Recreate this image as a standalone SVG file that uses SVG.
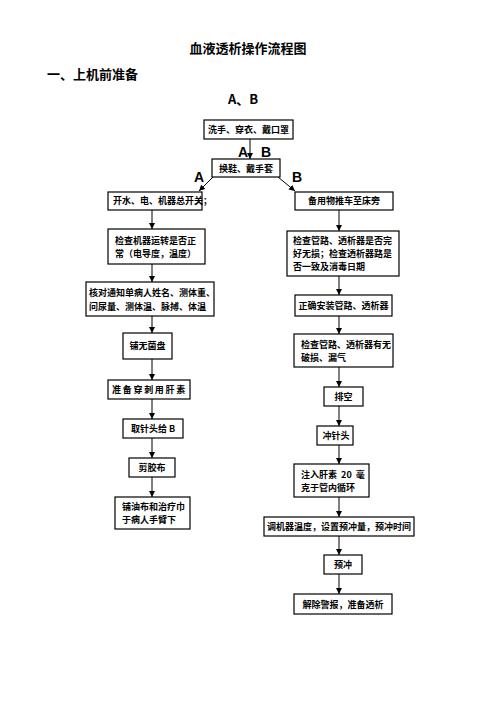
<svg xmlns="http://www.w3.org/2000/svg" width="496" height="702" viewBox="0 0 496 702">
<style>
.box{fill:#fff;stroke:#000;stroke-width:1.2}
.t{font-family:"Noto Sans CJK SC","Noto Sans CJK JP",sans-serif;font-weight:bold;font-size:9px;fill:#000}
.c{text-anchor:middle}
.h{font-family:"Noto Sans CJK SC",sans-serif;font-weight:bold;font-size:13px;fill:#000}
.lab{font-family:"Liberation Sans",Arial,sans-serif;font-weight:bold;font-size:14px;fill:#000}
.ln{stroke:#000;stroke-width:1;fill:none;marker-end:url(#ah)}
</style>
<defs>
<marker id="ah" markerWidth="6" markerHeight="6" refX="6" refY="3" orient="auto" markerUnits="userSpaceOnUse">
<path d="M0,0 L6,3 L0,6 Z" fill="#000"/>
</marker>
</defs>
<rect width="496" height="702" fill="#fff"/>
<text class="h" x="248" y="53" text-anchor="middle">血液透析操作流程图</text>
<text class="h" x="47" y="79">一、上机前准备</text>
<text class="h" x="243" y="104" text-anchor="middle" font-family="Liberation Sans, Noto Sans CJK SC, sans-serif">A、B</text>

<g id="connectors">
<line class="ln" x1="250" y1="139" x2="250" y2="159"/>
<line class="ln" x1="213" y1="177" x2="199" y2="191"/>
<line class="ln" x1="278" y1="177" x2="295" y2="191"/>
<line class="ln" x1="152" y1="210" x2="152" y2="229"/>
<line class="ln" x1="152" y1="264" x2="152" y2="282"/>
<line class="ln" x1="152" y1="316" x2="152" y2="333"/>
<line class="ln" x1="152" y1="359" x2="152" y2="380"/>
<line class="ln" x1="152" y1="399" x2="152" y2="419"/>
<line class="ln" x1="152" y1="438" x2="152" y2="458"/>
<line class="ln" x1="152" y1="477" x2="152" y2="497"/>
<line class="ln" x1="339" y1="210" x2="339" y2="231"/>
<line class="ln" x1="339" y1="276" x2="339" y2="295"/>
<line class="ln" x1="339" y1="316" x2="339" y2="334"/>
<line class="ln" x1="339" y1="367" x2="339" y2="387"/>
<line class="ln" x1="339" y1="406" x2="339" y2="426"/>
<line class="ln" x1="339" y1="445" x2="339" y2="464"/>
<line class="ln" x1="339" y1="497" x2="339" y2="517"/>
<line class="ln" x1="339" y1="536" x2="339" y2="555"/>
<line class="ln" x1="339" y1="574" x2="339" y2="594"/>
<text class="lab" x="238" y="157">A</text>
<text class="lab" x="261" y="157">B</text>
<text class="lab" x="194" y="182">A</text>
<text class="lab" x="292" y="182">B</text>
</g>

<g id="n1"><rect class="box" x="204" y="120" width="89" height="19"/><text class="t c" x="248.5" y="133">洗手、穿衣、戴口罩</text></g>
<g id="n2"><rect class="box" x="212" y="159" width="68" height="18"/><text class="t c" x="246" y="172">换鞋、戴手套</text></g>

<g id="a1"><rect class="box" x="108" y="192" width="94" height="18"/><text class="t" x="113" y="204" font-size="8.6">开水、电、机器总开关；</text></g>
<g id="a2"><rect class="box" x="108" y="229" width="97" height="35"/><text class="t" x="115" y="244">检查机器运转是否正</text><text class="t" x="115" y="257">常（电导度，温度）</text></g>
<g id="a3"><rect class="box" x="86" y="282" width="128" height="34"/><text class="t" x="89" y="296" font-size="8.7">核对通知单病人姓名、测体重、</text><text class="t" x="89" y="310" font-size="8.7">问尿量、测体温、脉搏、体温</text></g>
<g id="a4"><rect class="box" x="123" y="333" width="49" height="26"/><text class="t c" x="147.5" y="349">铺无菌盘</text></g>
<g id="a5"><rect class="box" x="108" y="380" width="82" height="19"/><text class="t c" x="149.5" y="393" letter-spacing="1.7">准备穿刺用肝素</text></g>
<g id="a6"><rect class="box" x="123" y="419" width="60" height="19"/><text class="t c" x="153" y="432">取针头给 B</text></g>
<g id="a7"><rect class="box" x="129" y="458" width="46" height="19"/><text class="t c" x="152" y="471">剪胶布</text></g>
<g id="a8"><rect class="box" x="115" y="497" width="75" height="32"/><text class="t" x="122" y="510">铺油布和治疗巾</text><text class="t" x="122" y="523">于病人手臂下</text></g>

<g id="b1"><rect class="box" x="295" y="192" width="98" height="18"/><text class="t c" x="344" y="204">备用物推车至床旁</text></g>
<g id="b2"><rect class="box" x="287" y="231" width="112" height="45"/><text class="t" x="293" y="244">检查管路、透析器是否完</text><text class="t" x="293" y="257">好无损；检查透析器路是</text><text class="t" x="293" y="270">否一致及消毒日期</text></g>
<g id="b3"><rect class="box" x="295" y="295" width="97" height="21"/><text class="t c" x="343.5" y="309">正确安装管路、透析器</text></g>
<g id="b4"><rect class="box" x="294" y="334" width="99" height="33"/><text class="t" x="301" y="348">检查管路、透析器有无</text><text class="t" x="301" y="361">破损、漏气</text></g>
<g id="b5"><rect class="box" x="324" y="387" width="39" height="19"/><text class="t c" x="343.5" y="400">排空</text></g>
<g id="b6"><rect class="box" x="317" y="426" width="36" height="19"/><text class="t c" x="336" y="439">冲针头</text></g>
<g id="b7"><rect class="box" x="294" y="464" width="75" height="33"/><text class="t" x="301" y="478" xml:space="preserve">注入肝素  20  毫</text><text class="t" x="301" y="491">克于管内循环</text></g>
<g id="b8"><rect class="box" x="264" y="517" width="150" height="19"/><text class="t c" x="339" y="530">调机器温度，设置预冲量，预冲时间</text></g>
<g id="b9"><rect class="box" x="324" y="555" width="38" height="19"/><text class="t c" x="343" y="568">预冲</text></g>
<g id="b10"><rect class="box" x="294" y="594" width="98" height="20"/><text class="t c" x="343" y="608">解除警报，准备透析</text></g>
</svg>
